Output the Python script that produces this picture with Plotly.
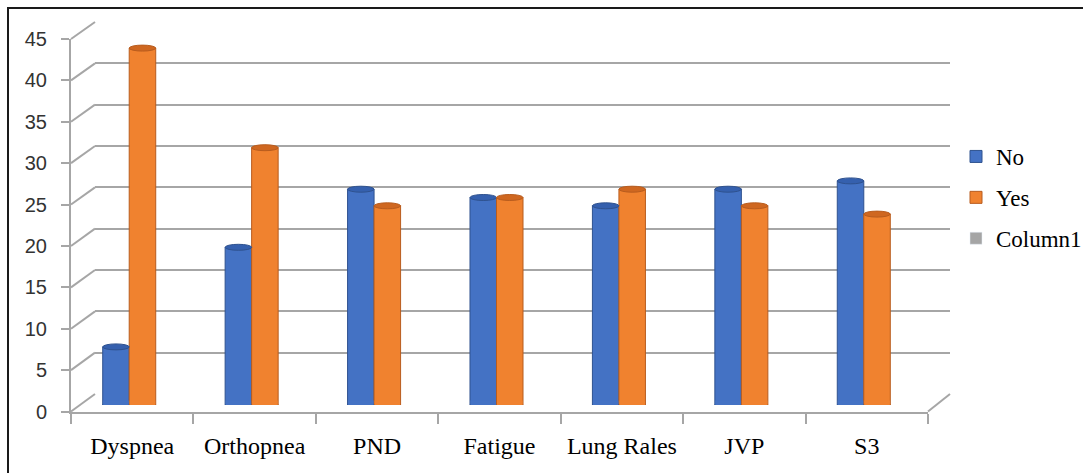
import plotly.graph_objects as go

categories = ["Dyspnea", "Orthopnea", "PND", "Fatigue", "Lung Rales", "JVP", "S3"]
no_values = [7, 19, 26, 25, 24, 26, 27]
yes_values = [43, 31, 24, 25, 26, 24, 23]
column1_values = [None] * 7
y_ticks = [0, 5, 10, 15, 20, 25, 30, 35, 40, 45]

W, H = 1083, 473
BLUE, BLUE_TOP, BLUE_EDGE = "#4472C4", "#3560AE", "#2F528F"
ORANGE, ORANGE_TOP, ORANGE_EDGE = "#F0822F", "#CF6720", "#B85C1E"
GRID = "#A6A6A6"


def px(x):
    return x / W


def py(y):
    return 1 - y / H


# pixel geometry of the pseudo-3D frame
FRONT_X = (71, 928)
FRONT_Y = (411.5, 39)      # value 0 -> 45
BACK_X = (95, 950)
BACK_Y = (394, 22)
BAR_X = (68, 925)
BAR_Y = (405, 31.5)
YMAX = 45


def fy(v):
    return FRONT_Y[0] + (FRONT_Y[1] - FRONT_Y[0]) * v / YMAX


def by(v):
    return BACK_Y[0] + (BACK_Y[1] - BACK_Y[0]) * v / YMAX


fig = go.Figure()

# back wall subplot (carries the gridlines)
fig.add_trace(go.Scatter(x=[], y=[], xaxis="x2", yaxis="y2", showlegend=False,
                         hoverinfo="skip"))

# legend-only series (no data)
fig.add_trace(go.Bar(x=categories, y=column1_values, name="Column1",
                     marker_color="#A5A5A5", xaxis="x", yaxis="y",
                     legendrank=3, legendgroup="c"))

fig.add_trace(go.Bar(x=categories, y=no_values, name="No",
                     marker=dict(color=BLUE, line=dict(color=BLUE_EDGE, width=1)),
                     xaxis="x3", yaxis="y3", legendrank=1, legendgroup="a"))
fig.add_trace(go.Bar(x=categories, y=yes_values, name="Yes",
                     marker=dict(color=ORANGE, line=dict(color=ORANGE_EDGE, width=1)),
                     xaxis="x3", yaxis="y3", legendrank=2, legendgroup="b"))

BARGAP = 0.567
bw = (1 - BARGAP) / 2
shapes = []
# cylinder caps
cap = 0.36
for i, (n, y) in enumerate(zip(no_values, yes_values)):
    for c, v, body, top, edge in [(i - bw / 2, n, BLUE, BLUE_TOP, BLUE_EDGE),
                                  (i + bw / 2, y, ORANGE, ORANGE_TOP, ORANGE_EDGE)]:
        shapes.append(dict(type="circle", xref="x3", yref="y3",
                           x0=c - bw / 2, x1=c + bw / 2, y0=-cap, y1=cap,
                           fillcolor=body, line=dict(color=edge, width=1), layer="above"))
        shapes.append(dict(type="rect", xref="x3", yref="y3",
                           x0=c - bw / 2 + 0.004, x1=c + bw / 2 - 0.004, y0=0, y1=cap * 1.5,
                           fillcolor=body, line=dict(width=0), layer="above"))
        shapes.append(dict(type="circle", xref="x3", yref="y3",
                           x0=c - bw / 2, x1=c + bw / 2, y0=v - cap, y1=v + cap,
                           fillcolor=top, line=dict(color=edge, width=1), layer="above"))

# diagonal connectors from front ticks to back-wall gridlines
for v in y_ticks:
    shapes.append(dict(type="line", xref="paper", yref="paper",
                       x0=px(FRONT_X[0]), y0=py(fy(v)), x1=px(BACK_X[0]), y1=py(by(v)),
                       line=dict(color=GRID, width=2), layer="below"))
shapes.append(dict(type="line", xref="paper", yref="paper",
                   x0=px(FRONT_X[1]), y0=py(fy(0)), x1=px(BACK_X[1]), y1=py(by(0)),
                   line=dict(color=GRID, width=2), layer="below"))
# outer frame
shapes.append(dict(type="rect", xref="paper", yref="paper",
                   x0=px(8), y0=py(8), x1=px(W + 10), y1=py(H + 10),
                   line=dict(color="#1a1a1a", width=2), fillcolor="rgba(0,0,0,0)", layer="above"))

fig.update_layout(
    width=W, height=H,
    margin=dict(l=0, r=0, t=0, b=0, autoexpand=False),
    paper_bgcolor="white", plot_bgcolor="rgba(0,0,0,0)",
    barmode="group", bargap=BARGAP, bargroupgap=0,
    shapes=shapes,
    showlegend=True,
    legend=dict(x=px(956), y=py(135), xanchor="left", yanchor="top",
                font=dict(family="Liberation Serif", size=23, color="black"),
                tracegroupgap=8, itemwidth=30, bgcolor="rgba(0,0,0,0)"),
    xaxis=dict(domain=[px(FRONT_X[0]), px(FRONT_X[1])], type="category",
               range=[-0.5, 6.5], showline=True, linecolor=GRID, linewidth=2,
               ticks="outside", tickson="boundaries", ticklen=10, tickcolor=GRID, tickwidth=2,
               tickfont=dict(family="Liberation Serif", size=24, color="black"),
               ticklabelstandoff=12, showgrid=False, zeroline=False, anchor="y"),
    yaxis=dict(domain=[py(FRONT_Y[0]), py(FRONT_Y[1])], range=[0, YMAX],
               tickvals=y_ticks, showline=True, linecolor=GRID, linewidth=2,
               ticks="outside", ticklen=8, tickcolor=GRID, tickwidth=2,
               tickfont=dict(family="Liberation Sans", size=20, color="#333333"),
               ticklabelstandoff=10, showgrid=False, zeroline=False, anchor="x"),
    xaxis2=dict(domain=[px(BACK_X[0]), px(BACK_X[1])], visible=False, anchor="y2",
                range=[0, 1]),
    yaxis2=dict(domain=[py(BACK_Y[0] + 1), py(BACK_Y[1] - 1)],
                range=[-45 / 372, YMAX + 45 / 372], tickvals=y_ticks,
                showgrid=True, gridcolor=GRID, gridwidth=2, showticklabels=False,
                ticks="", zeroline=False, showline=False, anchor="x2"),
    xaxis3=dict(domain=[px(BAR_X[0]), px(BAR_X[1])], type="category", range=[-0.5, 6.5],
                visible=False, anchor="y3"),
    yaxis3=dict(domain=[py(BAR_Y[0]), py(BAR_Y[1])], range=[0, YMAX],
                visible=False, anchor="x3"),
)

fig.write_html("out.html")
